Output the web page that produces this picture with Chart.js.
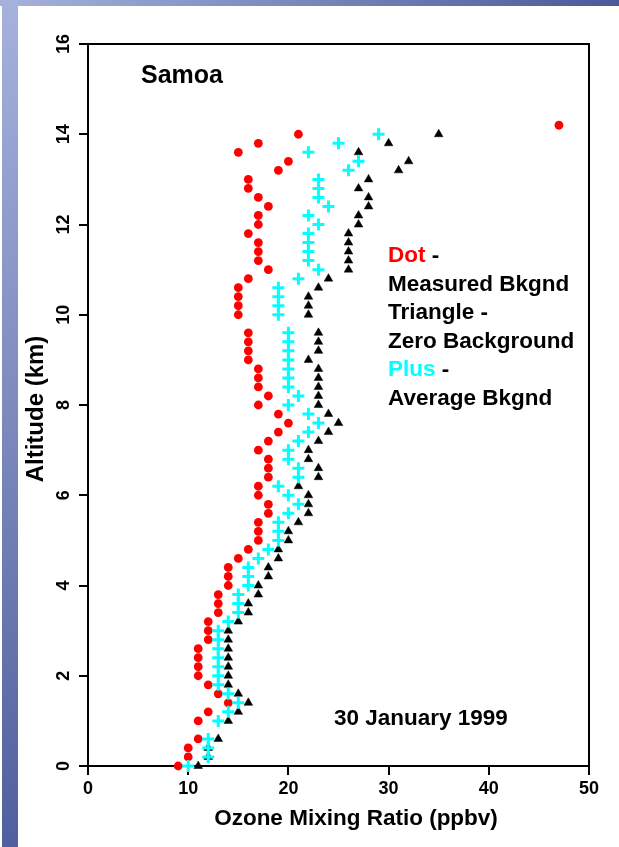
<!DOCTYPE html>
<html>
<head>
<meta charset="utf-8">
<script src="https://cdn.jsdelivr.net/npm/chart.js@4.4.1/dist/chart.umd.min.js"></script>
<style>
  html, body { margin: 0; padding: 0; background: #fff; }
  body { width: 619px; height: 847px; position: relative; overflow: hidden; }
  #topBar { position: absolute; left: 0; top: 0; width: 619px; height: 6px; background: linear-gradient(to right, #a6b2dc, #4a5a98); }
  #leftBar { position: absolute; left: 2px; top: 0; width: 16px; height: 847px; background: linear-gradient(to bottom, #a6b2dc, #50609e); }
  canvas { position: absolute; left: 0; top: 0; }
</style>
</head>
<body>
<div id="topBar"></div>
<div id="leftBar"></div>
<canvas id="chart" width="619" height="847"></canvas>
<script>
// altitude of each sounding level (km)
const altitudeKm = [
  0, 0.2, 0.4, 0.6,
  1.0, 1.2, 1.4, 1.6, 1.8,
  2.0, 2.2, 2.4, 2.6, 2.8,
  3.0, 3.2, 3.4, 3.6, 3.8,
  4.0, 4.2, 4.4, 4.6, 4.8,
  5.0, 5.2, 5.4, 5.6, 5.8,
  6.0, 6.2, 6.4, 6.6, 6.8,
  7.0, 7.2, 7.4, 7.6, 7.8,
  8.0, 8.2, 8.4, 8.6, 8.8,
  9.0, 9.2, 9.4, 9.6,
  10.0, 10.2, 10.4, 10.6, 10.8,
  11.0, 11.2, 11.4, 11.6, 11.8,
  12.0, 12.2, 12.4, 12.6, 12.8,
  13.0, 13.2, 13.4, 13.6, 13.8,
  14.0, 14.2
];

// ozone (ppbv) - dot, measured background
const measuredBkgnd = [
  9, 10, 10, 11,
  11, 12, 14, 13, 12,
  11, 11, 11, 11, 12,
  12, 12, 13, 13, 13,
  14, 14, 14, 15, 16,
  17, 17, 17, 18, 18,
  17, 17, 18, 18, 18,
  17, 18, 19, 20, 19,
  17, 18, 17, 17, 17,
  16, 16, 16, 16,
  15, 15, 15, 15, 16,
  18, 17, 17, 17, 16,
  17, 17, 18, 17, 16,
  16, 19, 20, 15, 17,
  21, 47
];

// triangle, zero background
const zeroBackground = [
  11, 12, 12, 13,
  14, 15, 16, 15, 14,
  14, 14, 14, 14, 14,
  14, 15, 16, 16, 17,
  17, 18, 18, 19, 19,
  20, 20, 21, 22, 22,
  22, 21, 23, 23, 22,
  22, 23, 24, 25, 24,
  23, 23, 23, 23, 23,
  22, 23, 23, 23,
  22, 22, 22, 23, 24,
  26, 26, 26, 26, 26,
  27, 27, 28, 28, 27,
  28, 31, 32, 27, 30,
  35, null
];

// plus, average background
const averageBkgnd = [
  10, 12, 12, 12,
  13, 14, 15, 14, 13,
  13, 13, 13, 13, 13,
  13, 14, 15, 15, 15,
  16, 16, 16, 17, 18,
  19, 19, 19, 20, 21,
  20, 19, 21, 21, 20,
  20, 21, 22, 23, 22,
  20, 21, 20, 20, 20,
  20, 20, 20, 20,
  19, 19, 19, 19, 21,
  23, 22, 22, 22, 22,
  23, 22, 24, 23, 23,
  23, 26, 27, 22, 25,
  29, null
];

const xTicks = [0, 10, 20, 30, 40, 50];
const yTicks = [0, 2, 4, 6, 8, 10, 12, 14, 16];

const FONT = '"Liberation Sans", Arial, sans-serif';

function toPoints(values) {
  return altitudeKm
    .map((alt, i) => ({ x: values[i], y: alt }))
    .filter(p => p.x !== null);
}

// box round the plot + the annotation texts
const frameAndText = {
  id: "frameAndText",
  beforeDatasetsDraw(chart) {
    const { ctx, chartArea: a } = chart;
    ctx.save();
    ctx.strokeStyle = "#000";
    ctx.lineWidth = 2;
    ctx.strokeRect(a.left, a.top, a.right - a.left, a.bottom - a.top);
    ctx.restore();
  },
  afterDraw(chart) {
    const ctx = chart.ctx;
    ctx.save();
    ctx.fillStyle = "#000";
    ctx.textBaseline = "alphabetic";

    ctx.font = "bold 25px " + FONT;
    ctx.fillText("Samoa", 141, 83);

    ctx.font = "bold 22.5px " + FONT;
    const legend = [
      [["Dot", "#ff0000"], [" -", "#000"]],
      [["Measured Bkgnd", "#000"]],
      [["Triangle -", "#000"]],
      [["Zero Background", "#000"]],
      [["Plus", "#00ffff"], [" -", "#000"]],
      [["Average Bkgnd", "#000"]],
    ];
    legend.forEach((line, i) => {
      let x = 388;
      const y = 262 + i * 28.6;
      line.forEach(([txt, col]) => {
        ctx.fillStyle = col;
        ctx.fillText(txt, x, y);
        x += ctx.measureText(txt).width;
      });
    });

    ctx.fillStyle = "#000";
    ctx.fillText("30 January 1999", 334, 725);

    // axis titles
    ctx.textAlign = "center";
    ctx.fillText("Ozone Mixing Ratio (ppbv)", 356, 825);
    ctx.font = "bold 24px " + FONT;
    ctx.translate(43, 409);
    ctx.rotate(-Math.PI / 2);
    ctx.fillText("Altitude (km)", 0, 0);
    ctx.restore();
  },
};

const axisGrid = {
  drawOnChartArea: false,
  drawTicks: true,
  tickLength: 9,
  lineWidth: 2,
  color: "#000",
};

new Chart(document.getElementById("chart"), {
  type: "scatter",
  data: {
    datasets: [
      {
        label: "Plus - Average Bkgnd",
        data: toPoints(averageBkgnd),
        pointStyle: "cross",
        pointRadius: 6,
        borderWidth: 3,
        borderColor: "#00ffff",
        backgroundColor: "#00ffff",
        clip: false,
        order: 0,
      },
      {
        label: "Triangle - Zero Background",
        data: toPoints(zeroBackground),
        pointStyle: "triangle",
        pointRadius: 5,
        borderWidth: 0.5,
        borderColor: "#000",
        backgroundColor: "#000",
        clip: false,
        order: 1,
      },
      {
        label: "Dot - Measured Bkgnd",
        data: toPoints(measuredBkgnd),
        pointStyle: "circle",
        pointRadius: 4.4,
        borderWidth: 0,
        backgroundColor: "#ff0000",
        borderColor: "#ff0000",
        clip: false,
        order: 2,
      },
    ],
  },
  options: {
    responsive: false,
    animation: false,
    devicePixelRatio: 1,
    layout: { padding: { top: 44, right: 30, left: 0, bottom: 0 } },
    plugins: {
      legend: { display: false },
      tooltip: { enabled: false },
    },
    scales: {
      x: {
        type: "linear",
        min: xTicks[0],
        max: xTicks[xTicks.length - 1],
        afterBuildTicks: (scale) => { scale.ticks = xTicks.map(v => ({ value: v })); },
        afterFit: (scale) => { scale.height = 81; },
        grid: axisGrid,
        border: { display: false },
        ticks: {
          color: "#000",
          font: { family: FONT, size: 18, weight: "bold" },
          padding: 3,
          maxRotation: 0,
        },
      },
      y: {
        type: "linear",
        min: yTicks[0],
        max: yTicks[yTicks.length - 1],
        afterBuildTicks: (scale) => { scale.ticks = yTicks.map(v => ({ value: v })); },
        afterFit: (scale) => { scale.width = 88; },
        grid: axisGrid,
        border: { display: false },
        ticks: {
          color: "#000",
          font: { family: FONT, size: 18, weight: "bold" },
          padding: 5,
          minRotation: 90,
          maxRotation: 90,
          crossAlign: "center",
        },
      },
    },
  },
  plugins: [frameAndText],
});
</script>
</body>
</html>
